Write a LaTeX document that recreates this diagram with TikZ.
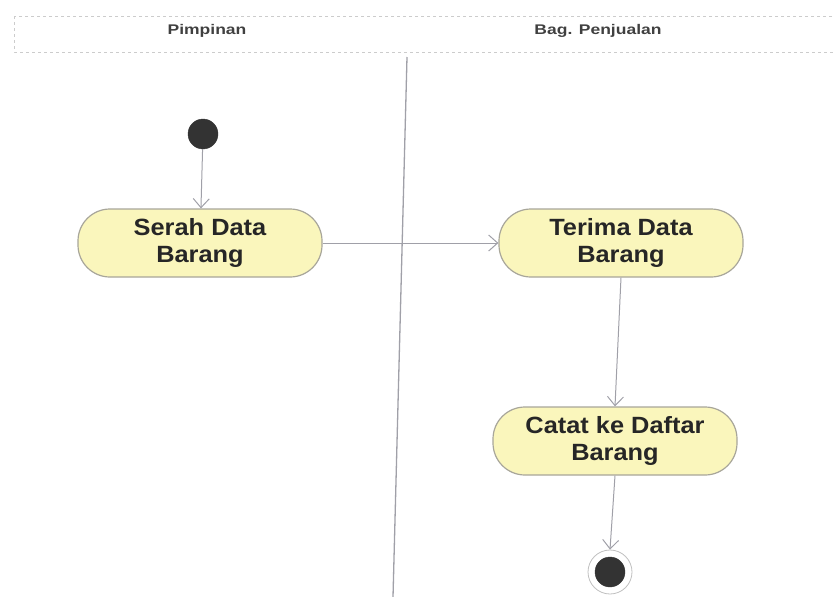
\documentclass[tikz,border=0pt]{standalone}
\usepackage{fontspec}
\setmainfont{Liberation Sans}
\newfontfamily\actfont[FakeStretch=1.08]{Liberation Sans}
\newfontfamily\headfont[FakeStretch=1.25]{Liberation Sans}
\usetikzlibrary{arrows.meta}
\definecolor{actfill}{HTML}{FAF6BC}
\definecolor{actdraw}{HTML}{A8A69A}
\definecolor{linegray}{HTML}{A0A0A8}
\definecolor{dotfill}{HTML}{333333}
\tikzset{
  act/.style={draw=actdraw, line width=1.2pt, fill=actfill, rounded corners=32pt,
    minimum width=244pt, minimum height=68pt, align=center,
    font=\actfont\fontsize{23.5}{27}\selectfont\bfseries, text=black!85},
  flow/.style={draw=linegray, line width=1pt, -{Straight Barb[length=9pt,width=16pt,line width=1pt]}},
  startdot/.style={circle, fill=dotfill, draw=black!80, minimum size=30pt, inner sep=0pt},
  enddot/.style={circle, fill=dotfill, draw=black!80, minimum size=30pt, inner sep=0pt},
  endring/.style={circle, draw=black!25, line width=0.8pt, minimum size=44pt, inner sep=0pt},
  lanehead/.style={font=\headfont\fontsize{14}{16}\selectfont\bfseries, text=black!75},
  lanebox/.style={draw=black!20, dashed, line width=0.6pt},
  divider/.style={draw=linegray, line width=1.3pt}
}
\begin{document}
\begin{tikzpicture}[x=1pt,y=-1pt]
\useasboundingbox (0,0) rectangle (833,597);
% header band
\draw[lanebox] (14,16) rectangle (840,52);
\node[lanehead] (h1) at (207,31) {Pimpinan};
\node[lanehead] (h2) at (598,31) {Bag. Penjualan};
% divider
\coordinate (dtop) at (407,57);
\coordinate (dbot) at (393,597);
\draw[divider] (dtop) -- (dbot);
% nodes
\node[startdot] (start) at (203,134) {};
\node[act] (serah) at (200,243) {Serah Data\\Barang};
\node[act] (terima) at (621,243) {Terima Data\\Barang};
\node[act] (catat) at (615,441) {Catat ke Daftar\\Barang};
\node[endring] (endr) at (610,572) {};
\node[enddot] (end) at (610,572) {};
% connectors
\draw[flow] (start) -- (serah);
\draw[flow] (serah) -- (terima);
\draw[flow] (terima.south) -- (catat.north);
\draw[flow] (catat.south) -- (endr.north);
\end{tikzpicture}
\end{document}
